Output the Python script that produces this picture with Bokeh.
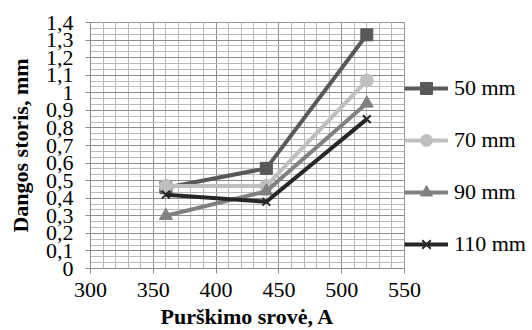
from bokeh.plotting import figure
from bokeh.models import SingleIntervalTicker, CustomJSTickFormatter, Range1d, Legend, LegendItem
from bokeh.embed import file_html
from bokeh.resources import INLINE

x_vals = [360, 440, 520]
s50 = [0.46, 0.57, 1.33]
s70 = [0.47, 0.47, 1.07]
s90 = [0.30, 0.44, 0.94]
s110 = [0.42, 0.38, 0.85]
labels = ["50 mm", "70 mm", "90 mm", "110 mm"]

FONT = "Liberation Serif"

p = figure(frame_width=314, frame_height=246, output_backend="svg", toolbar_location=None,
           x_range=Range1d(300, 550.001), y_range=Range1d(0, 1.4001),
           min_border_left=90, min_border_right=0, min_border_top=22, min_border_bottom=62)
p.outline_line_color = "#8c8c8c"

p.xaxis.ticker = SingleIntervalTicker(interval=50, num_minor_ticks=5)
p.yaxis.ticker = SingleIntervalTicker(interval=0.1, num_minor_ticks=3)
p.yaxis.formatter = CustomJSTickFormatter(code="""
const v = Math.round(tick*10)/10;
return v.toString().replace('.', ',');
""")

for ax in (p.xaxis[0], p.yaxis[0]):
    ax.axis_line_color = "#8c8c8c"
    ax.major_tick_line_color = "#8c8c8c"
    ax.major_tick_out = 5
    ax.major_tick_in = 0
    ax.minor_tick_line_color = None
    ax.major_label_text_font = FONT
    ax.major_label_text_font_size = "22px"
    ax.major_label_text_color = "#000000"
    ax.axis_label_text_font = FONT
    ax.axis_label_text_font_size = "22px"
    ax.axis_label_text_font_style = "bold"
    ax.axis_label_text_color = "#000000"

p.xaxis.axis_label = "Purškimo srovė, A"
p.yaxis.axis_label = "Dangos storis, mm"
p.yaxis.major_label_standoff = 12
p.xaxis.major_label_standoff = 9
p.xaxis.axis_label_standoff = 4
p.yaxis.axis_label_standoff = 10

for g in (p.xgrid[0], p.ygrid[0]):
    g.grid_line_color = "#8c8c8c"
    g.grid_line_width = 1
    g.minor_grid_line_color = "#bababa"
    g.minor_grid_line_width = 1

series = [
    (s50, "#595959", "square", 12),
    (s70, "#bfbfbf", "circle", 13),
    (s90, "#808080", "triangle", 13),
    (s110, "#262626", "x", 11),
]
items = []
for (ys, col, mk, sz), lab in zip(series, labels):
    r1 = p.line(x_vals, ys, line_color=col, line_width=4)
    r2 = p.scatter(x_vals, ys, marker=mk, size=sz, fill_color=col, line_color=col, line_width=2 if mk == "x" else 1)
    items.append(LegendItem(label=lab, renderers=[r1, r2]))

legend = Legend(items=items, location="top_left", orientation="vertical",
                glyph_width=44, glyph_height=30, label_height=20, spacing=22,
                padding=8, margin=0, label_standoff=6, border_line_color=None,
                background_fill_alpha=0, label_text_font=FONT,
                label_text_font_size="22px", label_text_color="#000000",
                title=" ", title_text_font_size="10px", title_standoff=40)
p.add_layout(legend, "right")

open("out.html", "w").write(file_html(p, INLINE))
